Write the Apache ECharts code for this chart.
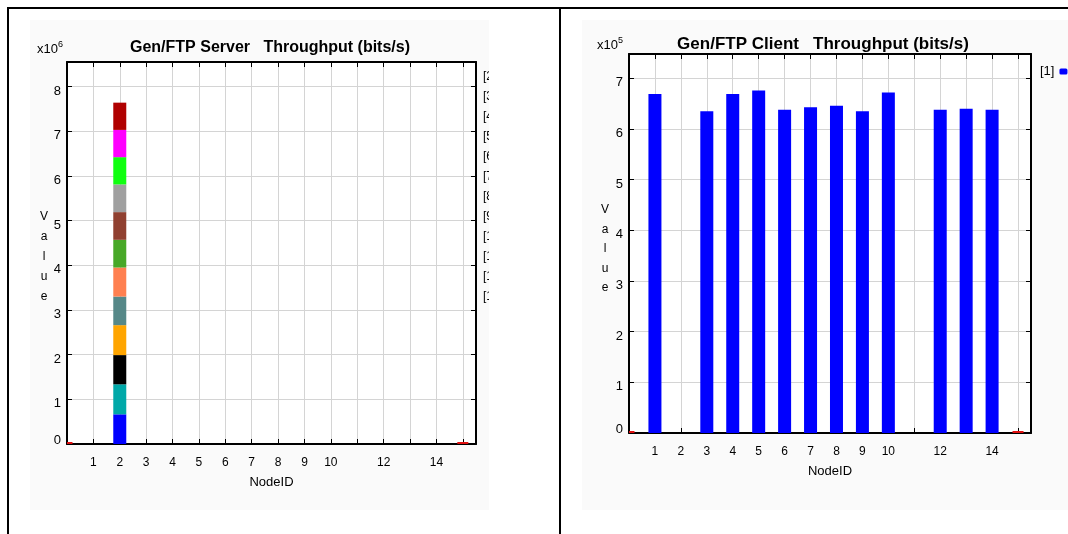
<!DOCTYPE html>
<html>
<head>
<meta charset="utf-8">
<script src="https://cdn.jsdelivr.net/npm/echarts@6/dist/echarts.min.js"></script>
<style>
  body { margin: 0; width: 1068px; height: 534px; background: #fff; overflow: hidden; position: relative; }
  .clip { position: absolute; overflow: hidden; background: #fafafa; }
  .chart { position: absolute; width: 1068px; height: 534px; }
  .line { position: absolute; background: #000; }
</style>
</head>
<body>
<div class="clip" style="left:30px;top:20px;width:459px;height:490px;">
  <div id="server" class="chart" style="left:-30px;top:-20px;"></div>
</div>
<div class="clip" style="left:582px;top:20px;width:486px;height:490px;">
  <div id="client" class="chart" style="left:-582px;top:-20px;"></div>
</div>
<div class="line" style="left:7px;top:7px;width:1061px;height:2px;"></div>
<div class="line" style="left:7px;top:7px;width:2px;height:527px;"></div>
<div class="line" style="left:559px;top:7px;width:2px;height:527px;"></div>
<script>
'use strict'
// x axis tick labels that are printed (11, 13, 15 are left blank)
var tickLabels = [1, 2, 3, 4, 5, 6, 7, 8, 9, 10, 12, 14];
// nodes with the small red marks on the axis
var edgeNodes = [0, 15];

// server: one stacked column at node 2, one segment per connection
var serverNode = 2;
var serverNames = ['[2]', '[3]', '[4]', '[5]', '[6]', '[7]', '[8]', '[9]', '[10]', '[11]', '[12]', '[13]'];
var serverValues = [664000, 672000, 654000, 670000, 640000, 650000, 620000, 620000, 620000, 610000, 610000, 610000];
var serverColors = ['#0000ff', '#00a8a8', '#000000', '#ffa500', '#568888', '#ff8050',
    '#48a828', '#904030', '#a0a0a0', '#10ff10', '#ff00ff', '#b00000'];

// client throughput per node
var clientNodes = [1, 2, 3, 4, 5, 6, 7, 8, 9, 10, 11, 12, 13, 14];
var clientValues = [669000, 0, 635000, 669000, 676000, 638000, 643000, 646000, 635000, 672000, 0, 638000, 640000, 638000];

var font = "'Liberation Sans', Arial, sans-serif";
var gridColor = '#d4d4d4';

function xAxes() {
    var base = {
        type: 'value', min: 0, max: 15.5, interval: 1,
        axisLine: { onZero: false, lineStyle: { color: '#000', width: 2 } },
        axisTick: { inside: true, length: 5, lineStyle: { color: '#000' } }
    };
    return [
        Object.assign({}, base, {
            position: 'bottom',
            name: 'NodeID', nameLocation: 'middle', nameGap: 32,
            nameTextStyle: { fontFamily: font, fontSize: 13, color: '#000' },
            splitLine: { show: true, lineStyle: { color: gridColor } },
            axisLabel: {
                margin: 13, fontFamily: font, fontSize: 12, color: '#000',
                formatter: function (v) { return tickLabels.indexOf(v) >= 0 ? String(v) : ''; }
            }
        }),
        Object.assign({}, base, {
            position: 'top',
            splitLine: { show: false },
            axisLabel: { show: false }
        })
    ];
}

function yAxes(max, unit) {
    var base = {
        type: 'value', min: 0, max: max, interval: unit,
        axisLine: { show: true, onZero: false, lineStyle: { color: '#000', width: 2 } },
        axisTick: { show: true, inside: true, length: 5, lineStyle: { color: '#000' } }
    };
    return [
        Object.assign({}, base, {
            position: 'left',
            splitLine: { show: true, lineStyle: { color: gridColor } },
            axisLabel: {
                margin: 6, fontFamily: font, fontSize: 13, color: '#000',
                formatter: function (v) {
                    var n = v / unit;
                    if (Math.abs(n - Math.round(n)) > 1e-9) return '';
                    n = Math.round(n);
                    return n === 0 ? '{z|0}' : '{n|' + n + '}';
                },
                rich: {
                    n: { fontFamily: font, fontSize: 13, color: '#000', padding: [9, 0, 0, 0] },
                    z: { fontFamily: font, fontSize: 13, color: '#000', padding: [0, 0, 8, 0] }
                }
            }
        }),
        Object.assign({}, base, {
            position: 'right',
            splitLine: { show: false },
            axisLabel: { show: false }
        })
    ];
}

// main title, the x10^n exponent and the stacked "Value" label
function titles(text, center, size, top, expo, expoLeft, valueX, valueTop, valueGap) {
    return [
        { text: text, left: center, top: top, textAlign: 'center', padding: 0,
          textStyle: { fontFamily: font, fontSize: size, fontWeight: 'bold', color: '#000' } },
        { text: 'x10{s|' + expo + '}', left: expoLeft, top: top, padding: 0,
          textStyle: { fontFamily: font, fontSize: 13, fontWeight: 'normal', color: '#000',
              rich: { s: { fontFamily: font, fontSize: 9, color: '#000', padding: [0, 0, 10, 0] } } } },
        { text: 'V\na\nl\nu\ne', left: valueX, top: valueTop, textAlign: 'center', padding: 0,
          textStyle: { fontFamily: font, fontSize: 12, fontWeight: 'normal', lineHeight: valueGap, color: '#000' } }
    ];
}

function edgeMarks() {
    return {
        type: 'custom',
        name: 'edge',
        data: edgeNodes.map(function (n) { return [n, 0]; }),
        encode: { x: 0, y: 1 },
        z: 5,
        renderItem: function (params, api) {
            var p = api.coord([api.value(0), 0]);
            var cs = params.coordSys;
            var rect = echarts.graphic.clipRectByRect(
                { x: p[0] - 5.5, y: p[1] - 2, width: 11, height: 2 },
                { x: cs.x, y: cs.y, width: cs.width, height: cs.height });
            return rect && { type: 'rect', shape: rect, style: { fill: '#e01010' } };
        }
    };
}

// column segment drawn from [node, bottom, top] through the axes
function renderSegment(params, api) {
    var p0 = api.coord([api.value(0), api.value(1)]);
    var p1 = api.coord([api.value(0), api.value(2)]);
    return {
        type: 'rect',
        shape: { x: p0[0] - 6.5, y: p1[1], width: 13, height: p0[1] - p1[1] },
        style: { fill: api.visual('color') }
    };
}

// ---- server chart
var server_chart = echarts.init(document.getElementById('server'));
var serverSeries = [];
var base = 0;
serverNames.forEach(function (name, i) {
    serverSeries.push({
        name: name,
        type: 'custom',
        itemStyle: { color: serverColors[i] },
        encode: { x: 0, y: [1, 2] },
        renderItem: renderSegment,
        data: [[serverNode, base, base + serverValues[i]]]
    });
    base += serverValues[i];
});
serverSeries.push(edgeMarks());

server_chart.setOption({
    animation: false,
    title: titles('Gen/FTP Server   Throughput (bits/s)', 270, 16, 40, 6, 37, 44, 207, 20),
    grid: { left: 67, top: 62, width: 409, height: 382, show: true, backgroundColor: '#fff', borderWidth: 0 },
    legend: {
        data: serverNames,
        orient: 'vertical', left: 483, top: 71, align: 'right', padding: 0,
        itemWidth: 8, itemHeight: 6, itemGap: 8,
        formatter: '{a|{name}}',
        textStyle: {
            fontFamily: font, fontSize: 12, lineHeight: 12, color: '#000',
            rich: { a: { fontFamily: font, fontSize: 12, color: '#000', width: 26, align: 'left' } }
        }
    },
    xAxis: xAxes(),
    yAxis: yAxes(8550000, 1000000),
    series: serverSeries
});

// ---- client chart
var client_chart = echarts.init(document.getElementById('client'));
client_chart.setOption({
    animation: false,
    title: titles('Gen/FTP Client   Throughput (bits/s)', 823, 17, 36, 5, 597, 605, 200, 19.5),
    grid: { left: 629, top: 54, width: 402, height: 379, show: true, backgroundColor: '#fff', borderWidth: 0 },
    legend: {
        data: ['[1]'],
        orient: 'vertical', left: 1040, top: 65, align: 'right', padding: 0,
        itemWidth: 8, itemHeight: 6, itemGap: 8,
        textStyle: { fontFamily: font, fontSize: 13, color: '#000' }
    },
    xAxis: xAxes(),
    yAxis: yAxes(748000, 100000),
    series: [
        {
            name: '[1]',
            type: 'bar',
            barWidth: 13,
            itemStyle: { color: '#0000ff' },
            data: clientNodes.map(function (n, i) { return [n, clientValues[i]]; })
        },
        edgeMarks()
    ]
});
</script>
</body>
</html>
